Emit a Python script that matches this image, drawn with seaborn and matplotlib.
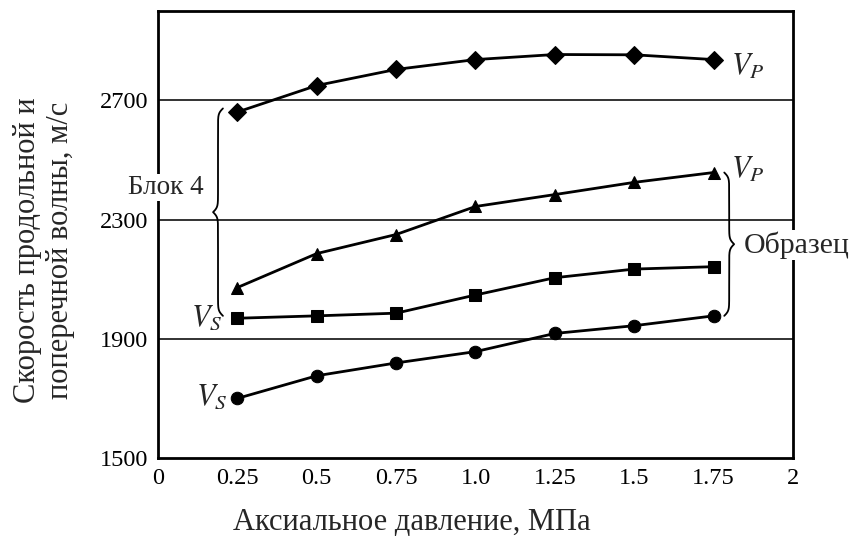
import matplotlib
matplotlib.use("Agg")
import matplotlib.pyplot as plt
import numpy as np
import pandas as pd
import seaborn as sns

# data
pressure = [0.25, 0.5, 0.75, 1.0, 1.25, 1.5, 1.75]
vp_block = [2661, 2750, 2804, 2837, 2854, 2853, 2837]
vp_sample = [2072, 2186, 2250, 2344, 2384, 2425, 2458]
vs_block = [1969, 1977, 1986, 2047, 2105, 2134, 2142]
vs_sample = [1700, 1776, 1819, 1857, 1918, 1944, 1977]

x_ticks = [0, 0.25, 0.5, 0.75, 1.0, 1.25, 1.5, 1.75, 2]
x_labels = ["0", "0.25", "0.5", "0.75", "1.0", "1.25", "1.5", "1.75", "2"]
y_ticks = [1500, 1900, 2300, 2700]

sns.set_theme(style="white")
plt.rcParams["font.family"] = ["Liberation Serif", "DejaVu Serif"]
plt.rcParams["mathtext.fontset"] = "stix"

fig = plt.figure(figsize=(8.53, 5.43), dpi=100)
ax = fig.add_axes([158 / 853, 1 - 458 / 543, 635 / 853, (458 - 11) / 543])

series = [
    (vp_block, "D", 9),
    (vp_sample, "^", 9),
    (vs_block, "s", 8),
    (vs_sample, "o", 9),
]
for vals, mk, ms in series:
    d = pd.DataFrame({"p": pressure, "v": vals})
    sns.lineplot(data=d, x="p", y="v", ax=ax, color="black", lw=2.0,
                 marker=mk, markersize=ms, markeredgecolor="black",
                 markerfacecolor="black", zorder=3)

ax.set_xlim(0, 2)
ax.set_ylim(1500, 3000)
ax.set_xticks(x_ticks)
ax.set_xticklabels(x_labels)
ax.set_yticks(y_ticks)
ax.tick_params(axis="both", direction="out", length=5, width=1.8,
               color="black", labelsize=17.5, labelcolor="black", pad=2)
for s in ax.spines.values():
    s.set_color("black")
    s.set_linewidth(2.0)
for yv in y_ticks[1:]:
    ax.axhline(yv, color="#222222", lw=1.3, zorder=1)
ax.set_xlabel("")
ax.set_ylabel("")


def brace(ax, xb, y0, y1, w, side):
    # curly brace along y, tip pointing to side (-1 left, +1 right)
    ys = np.linspace(y0, y1, 401)
    half = ys[:201]
    beta = 0.12
    c = 1 / (1 + np.exp(-beta * (half - half[0]))) + 1 / (1 + np.exp(-beta * (half - half[-1])))
    full = np.concatenate([c, c[-2::-1]])
    xs = xb + side * w * (full - 1)
    ax.plot(xs, ys, color="black", lw=1.3, clip_on=False, zorder=4)


brace(ax, 0.189, 1977, 2673, 0.031, -1)
brace(ax, 1.799, 1977, 2458, 0.031, 1)

ax.text(1.805, 2810, "$V_P$", fontsize=22, ha="left", va="center")
ax.text(1.805, 2466, "$V_P$", fontsize=22, ha="left", va="center")
ax.text(0.105, 1970, "$V_S$", fontsize=22, ha="left", va="center")
ax.text(0.121, 1704, "$V_S$", fontsize=22, ha="left", va="center")
ax.text(-0.094, 2408, "Блок 4", fontsize=19.5, ha="left", va="center",
        clip_on=False, zorder=5,
        bbox=dict(facecolor="white", edgecolor="none", pad=1))
ax.text(1.846, 2214, "Образец", fontsize=21.5, ha="left", va="center",
        clip_on=False, zorder=5,
        bbox=dict(facecolor="white", edgecolor="none", pad=1))

fig.text(412 / 853, 1 - 522 / 543, "Аксиальное давление, МПа", fontsize=22,
         ha="center", va="center")
fig.text(44 / 853, 1 - 250 / 543, "Скорость продольной и\nпоперечной волны, м/с",
         fontsize=22, rotation=90, ha="center", va="center",
         multialignment="center", linespacing=1.15)

fig.savefig("out.png", dpi=100)
